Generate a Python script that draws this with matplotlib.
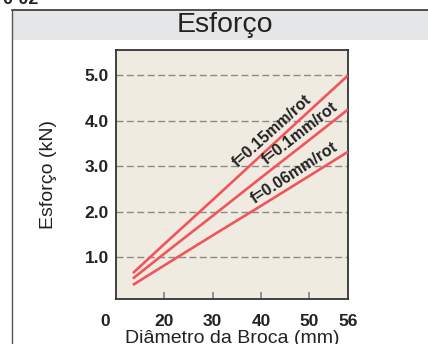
import matplotlib
matplotlib.use("Agg")
import matplotlib.pyplot as plt
from matplotlib.patches import Rectangle
from matplotlib.lines import Line2D

plt.rcParams['font.family'] = ['Liberation Sans', 'DejaVu Sans']

# ---- data ----
diameters = [13.5, 20, 30, 40, 50, 58]
force_f015 = [0.65, 1.29, 2.26, 3.24, 4.22, 5.00]
force_f010 = [0.53, 1.08, 1.91, 2.75, 3.58, 4.25]
force_f006 = [0.39, 0.82, 1.48, 2.13, 2.79, 3.32]
series_labels = ["f=0.15mm/rot", "f=0.1mm/rot", "f=0.06mm/rot"]
xtick_positions = [20, 30, 40, 50, 58]
xtick_labels = ["20", "30", "40", "50", "56"]
ytick_values = [1.0, 2.0, 3.0, 4.0, 5.0]

red = "#EF555B"
W, H = 428, 344
fig = plt.figure(figsize=(W / 100, H / 100), dpi=100)
fig.patch.set_facecolor("white")

# title band and frame
fig.patches.append(Rectangle((12 / W, 1 - 40 / H), 1 - 12 / W, 30 / H,
                             transform=fig.transFigure, facecolor="#E5E6E8",
                             edgecolor="none", zorder=0))
fig.lines.append(Line2D([12 / W, 1], [1 - 10 / H, 1 - 10 / H], transform=fig.transFigure,
                        color="#333333", lw=1.2))
fig.lines.append(Line2D([12 / W, 12 / W], [0, 1 - 10 / H], transform=fig.transFigure,
                        color="#555555", lw=1.0))
fig.text(225 / W, 1 - 25 / H, "Esforço", ha="center", va="center", fontsize=20.5, color="#222222")
fig.text(2 / W, 1 - 4 / H, "0-02", ha="left", va="baseline", fontsize=13,
         fontweight="bold", color="#222222")

ax = fig.add_axes([116 / W, 1 - 299 / H, 232 / W, 249 / H])
ax.set_facecolor("#F0EBE1")

for ys in (force_f015, force_f010, force_f006):
    ax.plot(diameters, ys, color=red, lw=1.9, solid_capstyle="butt", zorder=3)

ax.set_xlim(10, 58)
ax.set_ylim(0.08, 5.56)
ax.set_xticks(xtick_positions)
ax.set_xticklabels(xtick_labels)
ax.set_yticks(ytick_values)
ax.set_yticklabels([f"{v:.1f}" for v in ytick_values])

for y in ytick_values:
    ax.axhline(y, color="#8A8A8A", lw=1.0, dashes=(5, 2.5), zorder=1)

ax.tick_params(axis="x", direction="in", length=4.8, width=1.1, color="#777777",
               pad=10.5, labelsize=12.5, labelcolor="#222222")
ax.tick_params(axis="y", length=0, pad=5, labelsize=12.5, labelcolor="#222222")
for lab in ax.get_xticklabels() + ax.get_yticklabels():
    lab.set_fontweight("bold")
# hide the x tick mark at the right edge
ax.xaxis.get_major_ticks()[-1].tick1line.set_visible(False)

for s in ax.spines.values():
    s.set_color("#333333")
    s.set_linewidth(1.3)

fig.text(105 / W, 1 - 322 / H, "0", ha="center", va="center", fontsize=12.5,
         fontweight="bold", color="#222222")

ax.set_xlabel("Diâmetro da Broca (mm)", fontsize=14, color="#222222", labelpad=1)
ax.set_ylabel("Esforço (kN)", fontsize=14, color="#222222", labelpad=20)

label_pos = [(42.2, 3.77, 42), (48.0, 3.73, 38), (46.8, 2.85, 33)]
for (x, y, rot), txt in zip(label_pos, series_labels):
    ax.text(x, y, txt, rotation=rot, ha="center", va="center", fontsize=11.5,
            fontweight="bold", color="#222222", rotation_mode="anchor", zorder=4)

fig.savefig("out.png", dpi=100)
